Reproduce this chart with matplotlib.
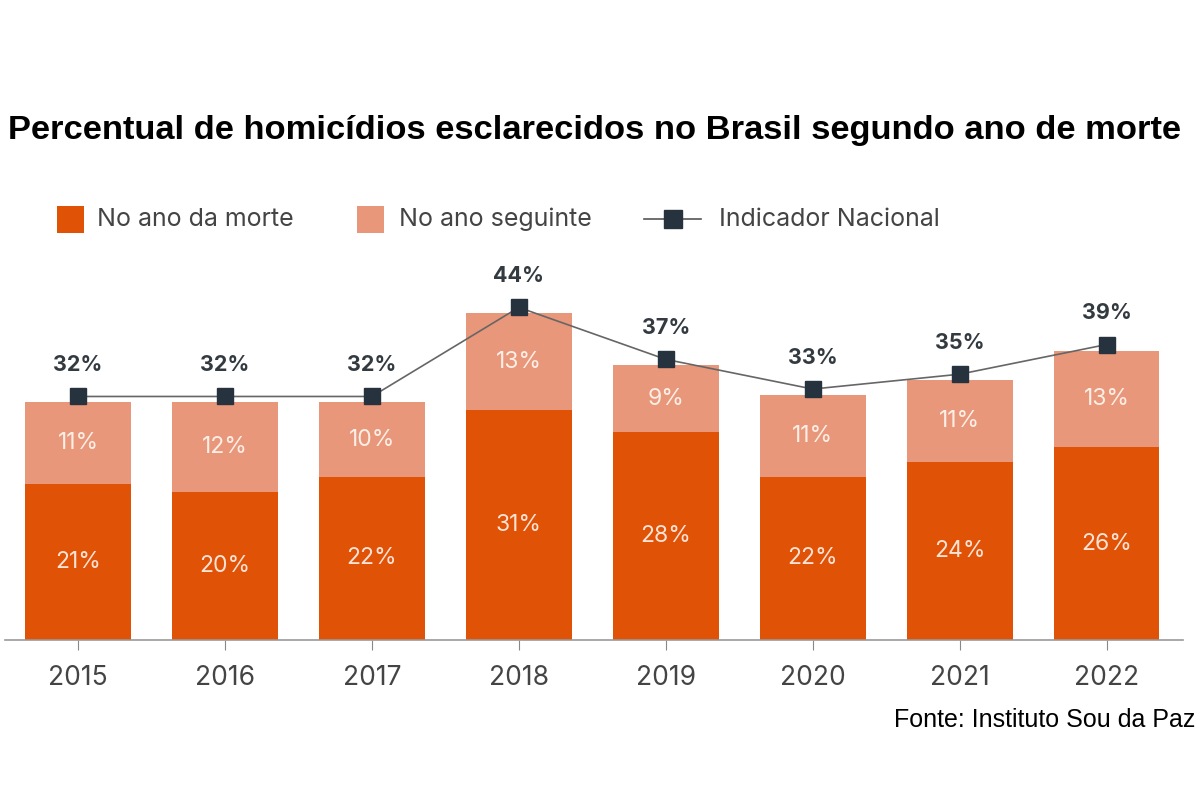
import matplotlib.pyplot as plt
from matplotlib.patches import Rectangle
from matplotlib.lines import Line2D
import matplotlib.transforms as mtransforms
import numpy as np

anos = ["2015", "2016", "2017", "2018", "2019", "2020", "2021", "2022"]
no_ano = [21, 20, 22, 31, 28, 22, 24, 26]
ano_seguinte = [11, 12, 10, 13, 9, 11, 11, 13]
indicador = [32, 32, 32, 44, 37, 33, 35, 39]

cor_escura = "#e05206"
cor_clara = "#e8977a"
cor_marcador = "#26323d"

plt.rcParams['font.family'] = ['Inter', 'DejaVu Sans']

W, H = 1200, 800
fig = plt.figure(figsize=(12, 8), dpi=100)
# baseline em y=640px, topo em y=280px
ax = fig.add_axes([5 / W, 1 - 640 / H, 1178 / W, 360 / H])

x = np.arange(len(anos))
largura = 0.72
ax.bar(x, no_ano, largura, color=cor_escura, zorder=2)
ax.bar(x, ano_seguinte, largura, bottom=no_ano, color=cor_clara, zorder=2)

# linha do indicador um pouco acima do topo das barras
desloc = mtransforms.offset_copy(ax.transData, fig=fig, x=0, y=6, units='dots')
ax.plot(x, indicador, color="#666666", linewidth=1.2, marker='s', markersize=11,
        markerfacecolor=cor_marcador, markeredgecolor=cor_marcador,
        transform=desloc, zorder=3)

for i in range(len(anos)):
    ax.text(x[i], no_ano[i] / 2, f"{no_ano[i]}%", ha='center', va='center',
            color="#fde3d6", fontsize=16.5)
    ax.text(x[i], no_ano[i] + ano_seguinte[i] / 2, f"{ano_seguinte[i]}%",
            ha='center', va='center', color="#fdeee6", fontsize=16.5)
    ax.annotate(f"{indicador[i]}%", (x[i], indicador[i]), xytext=(0, 27),
                textcoords='offset points', ha='center', va='center',
                color="#333a40", fontsize=15.5, fontweight='bold')

ax.set_xlim(-0.497, 7.52)
ax.set_ylim(0, 48.5)
ax.set_xticks(x)
ax.set_xticklabels(anos, fontsize=19, color="#444444")
ax.tick_params(axis='x', length=7, color="#888888", pad=11)
ax.set_yticks([])
for lado in ['top', 'right', 'left']:
    ax.spines[lado].set_visible(False)
ax.spines['bottom'].set_color("#999999")
ax.spines['bottom'].set_linewidth(1.2)

fig.text(595 / W, 1 - 130 / H, "Percentual de homicídios esclarecidos no Brasil segundo ano de morte",
         ha='center', va='center', fontsize=24.8, fontweight='bold', color='black',
         family='Liberation Sans')

# legenda feita a mao
ly = 1 - 219 / H
fig.add_artist(Rectangle((57 / W, 1 - 233 / H), 27 / W, 27 / H, transform=fig.transFigure,
                         facecolor=cor_escura, edgecolor='none'))
fig.text(97 / W, ly, "No ano da morte", ha='left', va='center', fontsize=18, color="#444444")
fig.add_artist(Rectangle((357 / W, 1 - 233 / H), 27 / W, 27 / H, transform=fig.transFigure,
                         facecolor=cor_clara, edgecolor='none'))
fig.text(399 / W, ly, "No ano seguinte", ha='left', va='center', fontsize=18, color="#444444")
fig.add_artist(Line2D([644 / W, 701 / W], [ly, ly], transform=fig.transFigure,
                      color="#555555", linewidth=1.2))
fig.add_artist(Line2D([672.5 / W], [ly], transform=fig.transFigure, marker='s',
                      markersize=13.5, markerfacecolor=cor_marcador,
                      markeredgecolor=cor_marcador, linestyle='none'))
fig.text(719 / W, ly, "Indicador Nacional", ha='left', va='center', fontsize=18, color="#444444")

fig.text(1195 / W, 1 - 720 / H, "Fonte: Instituto Sou da Paz", ha='right', va='center',
         fontsize=18, color='black', family='Liberation Sans')

fig.savefig("out.png", dpi=100, facecolor='white')
